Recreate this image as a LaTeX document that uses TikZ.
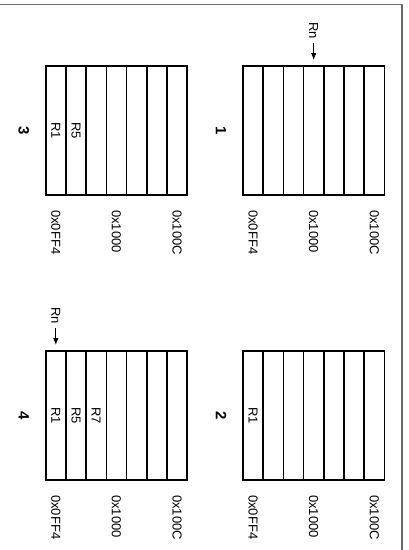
\documentclass[tikz,border=0pt]{standalone}
\usepackage{fontspec}
\setmainfont{Liberation Sans}
\usetikzlibrary{arrows.meta}
\tikzset{
  panel/.style={draw=black, line width=1.7pt, minimum width=141.5pt, minimum height=129pt, inner sep=0pt, outer sep=0pt, anchor=north west},
  cellline/.style={line width=1.6pt},
  txt/.style={rotate=-90, inner sep=0pt, font=\fontsize{13}{13}\selectfont},
  addr/.style={txt, anchor=west},
  num/.style={rotate=-90, inner sep=0pt, font=\fontsize{15}{15}\selectfont\bfseries},
  ptr/.style={-{Latex[length=7pt,width=5.5pt]}, line width=1pt},
  frameline/.style={draw=black!58, line width=1.3pt}
}
\begin{document}
\begin{tikzpicture}[x=1pt,y=-1pt]
\useasboundingbox (0,0) rectangle (408,550);
\draw[frameline] (0,4.5) -- (402,4.5) -- (402,550);
\foreach \n/\px/\py in {1/243/66, 2/243/351, 3/45.7/66, 4/45.7/351}{
  \node[panel] (p\n) at (\px,\py) {};
  \foreach \k in {1,...,6}{
    \draw[cellline] ([xshift=\k*20.214pt]p\n.north west) -- ([xshift=\k*20.214pt]p\n.south west);
  }
  \node[addr] (a\n a) at ([xshift=10.1pt,yshift=-15pt]p\n.south west) {0x0FF4};
  \node[addr] (a\n b) at ([xshift=70.7pt,yshift=-15pt]p\n.south west) {0x1000};
  \node[addr] (a\n c) at ([xshift=131.4pt,yshift=-15pt]p\n.south west) {0x100C};
  \node[num] (n\n) at ([xshift=-22pt]p\n.west) {\n};
}
% register labels
\node[txt] (r3a) at ([xshift=10.1pt]p3.west) {R1};
\node[txt] (r3b) at ([xshift=30.3pt]p3.west) {R5};
\node[txt] (r4a) at ([xshift=10.1pt]p4.west) {R1};
\node[txt] (r4b) at ([xshift=30.3pt]p4.west) {R5};
\node[txt] (r4c) at ([xshift=50.5pt]p4.west) {R7};
\node[txt] (r2a) at ([xshift=10.1pt]p2.west) {R1};
% Rn pointers
\node[addr] (rn1) at ([xshift=70.7pt,yshift=44pt]p1.north west) {Rn};
\coordinate (t1) at ([xshift=70.7pt,yshift=6pt]p1.north west);
\draw[ptr] ([yshift=-3.5pt]rn1.east) -- (t1);
\node[addr] (rn4) at ([xshift=10.1pt,yshift=44pt]p4.north west) {Rn};
\coordinate (t4) at ([xshift=10.1pt,yshift=6pt]p4.north west);
\draw[ptr] ([yshift=-3.5pt]rn4.east) -- (t4);
\end{tikzpicture}
\end{document}
